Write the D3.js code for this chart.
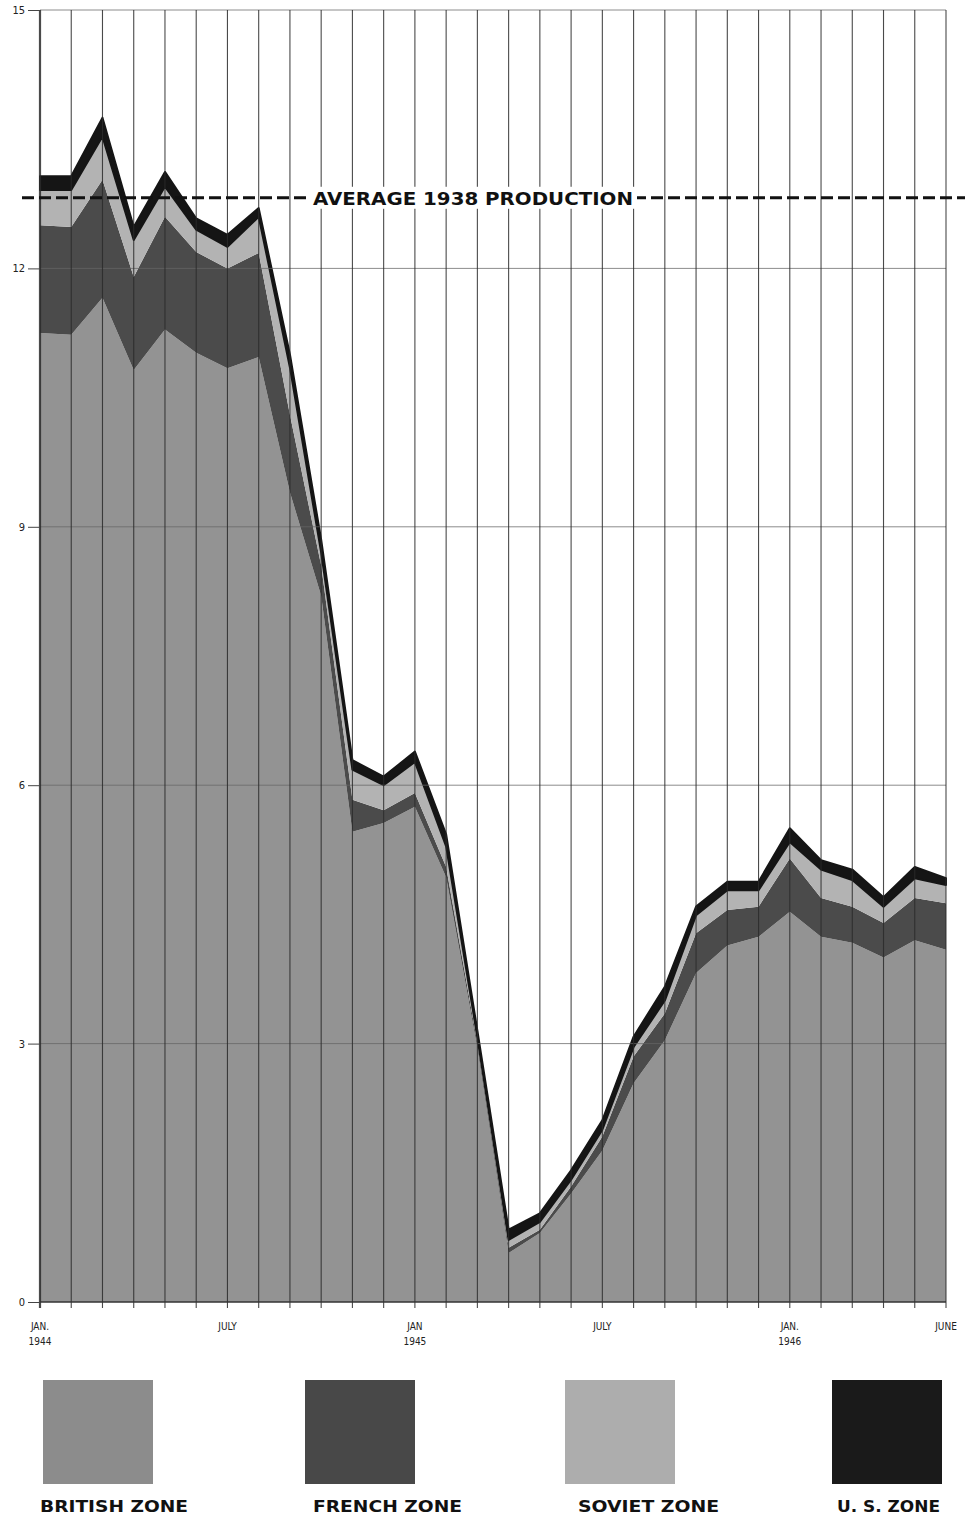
<!DOCTYPE html>
<html><head><meta charset="utf-8">
<script src="https://cdn.jsdelivr.net/npm/d3@7"></script>
<style>
html,body{margin:0;padding:0;background:#fff;}
svg{display:block;}
</style></head>
<body>
<svg id="chart" width="969" height="1516"></svg>
<script>
// ---- DATA ----
const months = d3.range(30); // Jan 1944 .. Jun 1946
const zones = ["british", "french", "soviet", "us"];
const zoneLabels = ["BRITISH ZONE", "FRENCH ZONE", "SOVIET ZONE", "U. S. ZONE"];
const british = [11.25, 11.23, 11.66, 10.82, 11.29, 11.02, 10.84, 10.97, 9.4, 8.2, 5.46, 5.56, 5.75, 4.93, 2.95, 0.57, 0.8, 1.26, 1.76, 2.54, 3.04, 3.82, 4.14, 4.24, 4.53, 4.24, 4.17, 4.0, 4.2, 4.09];
const french  = [1.25, 1.25, 1.37, 1.08, 1.31, 1.17, 1.16, 1.21, 0.9, 0.35, 0.37, 0.15, 0.16, 0.12, 0.05, 0.06, 0.04, 0.08, 0.16, 0.31, 0.31, 0.46, 0.41, 0.35, 0.62, 0.45, 0.42, 0.4, 0.49, 0.54];
const soviet  = [0.41, 0.43, 0.5, 0.43, 0.35, 0.26, 0.25, 0.42, 0.55, 0.15, 0.35, 0.29, 0.36, 0.24, 0.07, 0.09, 0.09, 0.08, 0.08, 0.11, 0.15, 0.21, 0.23, 0.19, 0.19, 0.33, 0.31, 0.19, 0.23, 0.21];
const us      = [0.16, 0.16, 0.22, 0.15, 0.17, 0.13, 0.14, 0.1, 0.15, 0.15, 0.11, 0.1, 0.12, 0.14, 0.08, 0.12, 0.1, 0.11, 0.11, 0.12, 0.16, 0.1, 0.1, 0.1, 0.16, 0.11, 0.12, 0.11, 0.13, 0.08];
const average1938 = 12.82;
const averageLabel = "AVERAGE 1938 PRODUCTION";
const yTicks = [0, 3, 6, 9, 12, 15];
const xTickMonths = [0, 6, 12, 18, 24, 29];
const xTickLines1 = ["JAN.", "JULY", "JAN", "JULY", "JAN.", "JUNE"];
const xTickLines2 = ["1944", "", "1945", "", "1946", ""];

// ---- STYLE ----
const colors = {british: "#939393", french: "#4b4b4b", soviet: "#b3b3b3", us: "#151515"};
const legendColors = {british: "#8c8c8c", french: "#484848", soviet: "#adadad", us: "#1a1a1a"};

const svg = d3.select("#chart");
const x = d3.scaleLinear().domain([0, 29]).range([40, 946]);
const y = d3.scaleLinear().domain([0, 15]).range([1302, 10]);

const table = months.map((m, i) => ({m, british: british[i], french: french[i], soviet: soviet[i], us: us[i]}));
const series = d3.stack().keys(zones)(table);

const area = d3.area()
  .x(d => x(d.data.m))
  .y0(d => y(d[0]))
  .y1(d => y(d[1]));

svg.append("g").selectAll("path").data(series).join("path")
  .attr("d", area)
  .attr("fill", d => colors[d.key])
  .attr("stroke", d => d.key === "us" ? colors.us : "none")
  .attr("stroke-width", d => d.key === "us" ? 2 : 0)
  .attr("stroke-linejoin", "round");

// horizontal grid lines
svg.append("g").selectAll("line").data(yTicks.filter(t => t > 0)).join("line")
  .attr("x1", x(0)).attr("x2", x(29))
  .attr("y1", d => y(d)).attr("y2", d => y(d))
  .attr("stroke", "#666").attr("stroke-width", 1).attr("stroke-opacity", 0.75);

// vertical month lines
svg.append("g").selectAll("line").data(months).join("line")
  .attr("x1", d => x(d)).attr("x2", d => x(d))
  .attr("y1", y(15)).attr("y2", y(0) + 6)
  .attr("stroke", "#2a2a2a")
  .attr("stroke-width", d => d === 0 ? 2.2 : 1.1)
  .attr("stroke-opacity", 0.85);

// baseline
svg.append("line").attr("x1", x(0)).attr("x2", x(29)).attr("y1", y(0)).attr("y2", y(0))
  .attr("stroke", "#333").attr("stroke-width", 1.5);

// y axis ticks + labels
const yAxis = d3.axisLeft(y).tickValues(yTicks).tickSize(12).tickPadding(3).tickFormat(d3.format("d"));
const ya = svg.append("g").attr("transform", `translate(${x(0)},0)`).call(yAxis);
ya.select(".domain").remove();
ya.selectAll("line").attr("stroke", "#444").attr("stroke-width", 1);
ya.selectAll("text").attr("font-family", "Liberation Sans Narrow, DejaVu Sans Condensed, Arial Narrow, sans-serif")
  .attr("font-size", 11).attr("fill", "#222");

// x tick labels
const xl = svg.append("g");
xTickMonths.forEach((m, i) => {
  const t = xl.append("text").attr("x", x(m)).attr("y", 1330)
    .attr("text-anchor", "middle")
    .attr("font-family", "DejaVu Sans Condensed, Liberation Sans Narrow, sans-serif")
    .attr("font-size", 10).attr("fill", "#222");
  t.append("tspan").attr("x", x(m)).attr("dy", 0).text(xTickLines1[i]);
  if (xTickLines2[i]) t.append("tspan").attr("x", x(m)).attr("dy", 15).text(xTickLines2[i]);
});

// average 1938 line
const ay = y(average1938);
svg.append("line").attr("x1", 22).attr("x2", 965).attr("y1", ay).attr("y2", ay)
  .attr("stroke", "#111").attr("stroke-width", 3).attr("stroke-dasharray", "12,5");
svg.append("rect").attr("x", 309).attr("y", ay - 11).attr("width", 328).attr("height", 22).attr("fill", "#fff");
svg.append("text").attr("x", 313).attr("y", ay + 7)
  .attr("font-family", "DejaVu Sans, sans-serif").attr("font-weight", "bold")
  .attr("font-size", 17).attr("fill", "#111")
  .attr("textLength", 320).attr("lengthAdjust", "spacingAndGlyphs")
  .text(averageLabel);

// legend
const legendX = [43, 305, 565, 832];
const legendLabelX = [40, 313, 578, 837];
const legendLabelW = [148, 149, 141, 103];
const lg = svg.append("g");
zones.forEach((z, i) => {
  lg.append("rect").attr("x", legendX[i]).attr("y", 1380).attr("width", 110).attr("height", 104)
    .attr("fill", legendColors[z]);
  lg.append("text").attr("x", legendLabelX[i]).attr("y", 1512)
    .attr("font-family", "DejaVu Sans, sans-serif").attr("font-weight", "bold")
    .attr("font-size", 16).attr("fill", "#111")
    .attr("textLength", legendLabelW[i]).attr("lengthAdjust", "spacingAndGlyphs")
    .text(zoneLabels[i]);
});
</script>
</body></html>
